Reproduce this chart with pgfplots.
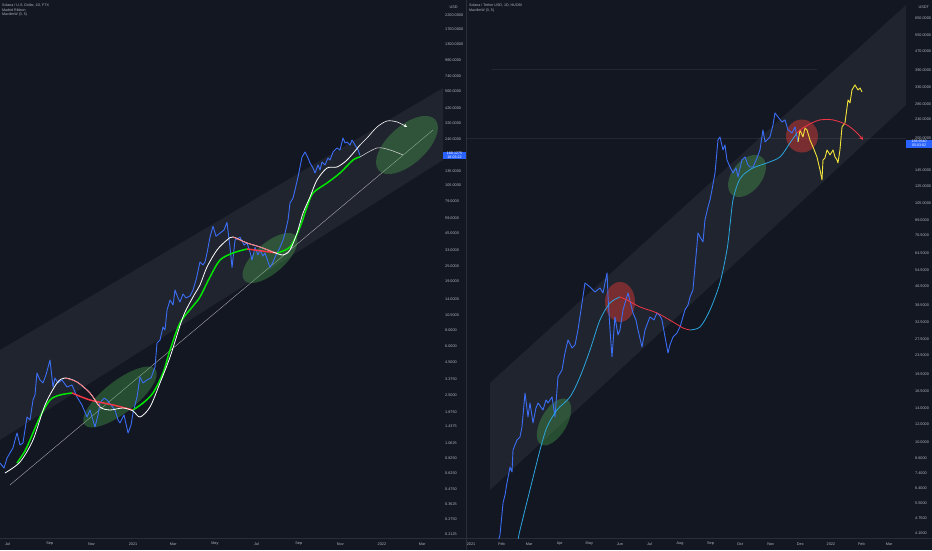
\documentclass[border=0pt]{standalone}
\usepackage{pgfplots}
\pgfplotsset{compat=1.18}
\usepackage{fontspec}
\setmainfont{Liberation Sans}
\usetikzlibrary{shapes.geometric,arrows.meta}
\definecolor{bg}{HTML}{131722}
\definecolor{sepc}{HTML}{2A2E39}
\definecolor{tvblue}{HTML}{3B6EF5}
\definecolor{tvgreen}{HTML}{00E600}
\definecolor{tvred}{HTML}{F23645}
\definecolor{tvcyan}{HTML}{2BA6DE}
\definecolor{tvyellow}{HTML}{F2E33A}
\definecolor{tvtext}{HTML}{B2B5BE}
\definecolor{lbox}{HTML}{2962FF}
\definecolor{elgreen}{HTML}{4CAF50}
\definecolor{elred}{HTML}{E53935}
\newcommand{\lbl}{\fontsize{3.8}{4.2}\selectfont}
\begin{document}
\begin{tikzpicture}
\useasboundingbox (0pt,0pt) rectangle (932pt,550pt);
\fill[bg] (0pt,0pt) rectangle (932pt,550pt);
\draw[sepc, line width=0.6pt] (466pt,0pt) -- (466pt,550pt);
\draw[sepc, line width=0.6pt] (0pt,12pt) -- (932pt,12pt);

% ---------------- LEFT PANEL ----------------
\begin{axis}[at={(0pt,12pt)}, anchor=south west, scale only axis, width=443pt, height=538pt,
  ymode=log,
  axis line style={draw=none}, major tick length=0pt, minor tick length=0pt,
  yticklabel pos=right,
  yticklabel style={anchor=west, inner sep=0pt, font=\lbl, text=tvtext, xshift=2pt},
  xticklabel style={anchor=center, inner sep=0pt, yshift=-6pt, font=\lbl, text=tvtext},
  clip=true,
  xmin=-195, xmax=454.5, ymin=0.1979, ymax=2866,
  xtick={-184,-122,-61,0,59,120,181,243,304,365,424},
  xticklabels={Jul,Sep,Nov,2021,Mar,May,Jul,Sep,Nov,2022,Mar},
  ytick={0.2125,0.275,0.3625,0.475,0.625,0.825,1.0625,1.4375,1.875,2.5,3.375,4.5,6,8,10.5,14,19,25,33,45,59,79,105,135,240,320,420,560,740,980,1300,1700,2200},
  yticklabels={0.2125,0.2750,0.3625,0.4750,0.6250,0.8250,1.0625,1.4375,1.8750,2.5000,3.3750,4.5000,6.0000,8.0000,10.5000,14.0000,19.0000,25.0000,33.0000,45.0000,59.0000,79.0000,105.0000,135.0000,240.0000,320.0000,420.0000,560.0000,740.0000,980.0000,1300.0000,1700.0000,2200.0000}]
\fill[white, opacity=0.06] (rel axis cs:0,0.3494) -- (rel axis cs:1,0.8364) -- (rel axis cs:1,0.7026) -- (rel axis cs:0,0.1822) -- cycle;
\addplot[white!60!gray, line width=0.4pt, opacity=0.8] coordinates {(-180.4,0.5086) (439.9,283.1)};
\node[ellipse, fill=elgreen, opacity=0.35, minimum width=90pt, minimum height=32pt, inner sep=0pt, rotate=38] at (rel axis cs:0.2709,0.2621) {};
\node[ellipse, fill=elgreen, opacity=0.35, minimum width=68pt, minimum height=30pt, inner sep=0pt, rotate=41] at (rel axis cs:0.6095,0.5204) {};
\node[ellipse, fill=elgreen, opacity=0.35, minimum width=76pt, minimum height=38pt, inner sep=0pt, rotate=42] at (rel axis cs:0.9187,0.7305) {};
\addplot[tvblue, line width=0.9pt, line join=round] coordinates {
(-195.0,0.752)(-189.1,0.688)(-184.7,0.823)(-180.4,0.899)(-176.0,0.983)(-173.0,1.133)(-170.0,1.284)(-165.7,1.037)(-161.3,1.075)(-158.4,1.355)(-155.4,1.708)(-151.0,1.619)(-146.6,2.311)(-143.7,2.526)(-140.8,3.74)(-136.4,3.30)(-132.0,3.13)(-127.6,3.61)(-121.7,4.71)(-117.3,2.91)(-114.4,3.42)(-110.0,3.13)(-104.1,3.30)(-96.8,2.91)(-89.4,3.02)(-82.1,2.44)(-74.8,2.11)(-67.4,1.708)(-63.0,1.934)(-55.7,1.429)(-51.3,1.769)(-48.4,2.19)(-42.5,2.39)(-38.1,2.311)(-32.3,2.11)(-26.4,1.934)(-22.0,1.619)(-19.1,1.534)(-13.2,1.769)(-7.3,1.284)(-2.9,1.48)(0,1.834)(5.9,2.44)(10.3,3.48)(14.7,3.13)(20.5,3.30)(26.4,3.42)(32.3,4.16)(35.2,6.38)(39.6,6.73)(44.0,8.48)(46.9,8.04)(49.9,11.47)(54.3,13.71)(58.7,12.55)(61.6,16.39)(66.0,14.21)(68.9,13.23)(73.3,15.27)(77.7,14.21)(83.6,14.73)(88.0,16.39)(92.4,19.58)(98.2,26.99)(102.6,25.58)(105.6,26.99)(108.5,31.57)(112.9,42.0)(117.3,50.9)(121.7,42.7)(127.6,45.1)(133.4,47.7)(137.8,54.6)(142.2,35.0)(145.2,24.5)(149.6,39.9)(156.9,42.0)(162.8,36.5)(167.2,37.8)(171.6,32.2)(174.5,27.95)(178.9,35.0)(183.3,30.6)(186.2,33.4)(190.6,30.0)(193.5,31.7)(198.0,27.0)(200.9,24.5)(205.3,27.0)(209.7,30.6)(215.5,35.0)(219.9,39.9)(222.9,45.1)(227.3,57.0)(230.2,77.1)(234.6,84.3)(237.5,97.25)(241.9,122.6)(247.8,175.0)(252.2,191.3)(256.6,172.0)(259.5,157.3)(263.9,143.9)(266.9,131.6)(271.3,151.8)(274.2,138.9)(277.1,160.1)(281.5,151.8)(285.9,172.0)(288.9,165.9)(293.3,191.3)(299.1,205.5)(303.5,198.3)(307.9,245.5)(310.9,224.6)(313.8,228.6)(318.2,216.7)(321.1,236.9)(325.5,216.7)(329.9,198.3)(332.8,180.13)};
\addplot[tvgreen, line width=1.5pt, smooth, tension=0.5] coordinates {(-170.1,0.752)(-158.4,0.932)(-151.0,1.133)(-136.4,1.708)(-121.7,2.311)(-107.0,2.526)(-89.4,2.618)};
\addplot[tvred, line width=1.5pt, smooth, tension=0.5] coordinates {(-89.4,2.618)(-63.1,2.311)(-29.3,2.114)(0,1.934)};
\addplot[tvgreen, line width=1.5pt, smooth, tension=0.5] coordinates {(0,1.934)(14.7,2.191)(29.3,2.618)(44.0,3.737)(54.3,5.628)(68.9,9.106)(88.0,12.32)(98.2,14.47)(112.9,20.65)(127.6,27.95)(146.6,31.67)(167.2,34.01)};
\addplot[tvred, line width=1.5pt, smooth, tension=0.5] coordinates {(167.2,34.01)(189.2,32.82)(211.1,31.67)};
\addplot[tvgreen, line width=1.5pt, smooth, tension=0.5] coordinates {(211.1,31.67)(230.2,35.25)(244.9,50.30)(255.1,71.84)(263.9,92.2)(284.5,110.2)(303.5,131.6)(322.6,165.9)(332.8,175.0)};
\addplot[white!75!gray, line width=0.5pt, smooth, tension=0.5] coordinates {(332.8,175.0)(357.8,205.5)(376.8,198.3)(395.9,181.4)};
\addplot[white, line width=0.8pt, smooth, tension=0.5] coordinates {(-187.7,0.630)(-165.7,0.766)(-146.6,1.133)(-129.0,2.114)(-111.4,3.128)(-99.7,3.420)(-82.1,3.184)(-63.1,2.618)(-48.4,2.040)(-33.7,1.934)(-14.7,2.004)(0,1.900)(10.3,1.708)(24.9,2.040)(39.6,3.128)(54.3,4.969)(73.3,10.13)(88.0,14.47)(98.2,17.92)(108.5,24.69)(123.2,33.41)(137.8,39.92)(146.6,42.11)(167.2,37.84)(186.2,35.25)(205.3,32.24)(220.0,30.56)(230.2,33.41)(240.5,45.22)(249.3,64.57)(259.5,85.86)(269.8,116.2)(284.5,143.9)(299.1,146.5)(313.8,165.9)(332.8,216.7)};
\addplot[tvred!70!white, line width=0.8pt, smooth, tension=0.5] coordinates {(-99.7,3.420)(-82.1,3.184)(-63.1,2.618)(-48.4,2.040)};
\addplot[tvred!70!white, line width=0.8pt, smooth, tension=0.5] coordinates {(146.6,42.11)(167.2,37.84)(186.2,35.25)(205.3,32.24)};
\addplot[white, line width=0.6pt, smooth, tension=0.5, -{Stealth[length=3pt,width=3pt]}] coordinates {(332.8,216.7)(343.1,245.5)(357.8,298.6)(372.4,332.3)(387.1,326.5)(401.8,298.6)};
\coordinate (pl) at (axis cs:332.8,180.13);
\end{axis}

% ---------------- RIGHT PANEL ----------------
\begin{axis}[at={(466pt,12pt)}, anchor=south west, scale only axis, width=440pt, height=538pt,
  ymode=log,
  axis line style={draw=none}, major tick length=0pt, minor tick length=0pt,
  yticklabel pos=right,
  yticklabel style={anchor=west, inner sep=0pt, font=\lbl, text=tvtext, xshift=9pt},
  xticklabel style={anchor=center, inner sep=0pt, yshift=-6pt, font=\lbl, text=tvtext},
  clip=true,
  xmin=-5.07, xmax=441.2, ymin=3.903, ymax=777.3,
  xtick={0,31,59,90,120,151,181,212,243,273,304,334,365,396,424},
  xticklabels={2021,Feb,Mar,Apr,May,Jun,Jul,Aug,Sep,Oct,Nov,Dec,2022,Feb,Mar},
  ytick={4.1,4.75,5.5,6.4,7.4,8.6,10,12,14,16.5,19.5,23.5,27.5,32.5,38.5,46.5,54.5,64.5,76.5,89,105,125,145,200,240,280,330,390,470,550,650},
  yticklabels={4.1000,4.7500,5.5000,6.4000,7.4000,8.6000,10.0000,12.0000,14.0000,16.5000,19.5000,23.5000,27.5000,32.5000,38.5000,46.5000,54.5000,64.5000,76.5000,89.0000,105.0000,125.0000,145.0000,200.0000,240.0000,280.0000,330.0000,390.0000,470.0000,550.0000,650.0000}]
\fill[white, opacity=0.06] (rel axis cs:0.0545,0.2881) -- (rel axis cs:1,0.9907) -- (rel axis cs:1,0.8048) -- (rel axis cs:0.0545,0.0892) -- cycle;
\addplot[white, line width=0.6pt, opacity=0.07] coordinates {(21.3,394.5)(350.9,394.5)};
\addplot[white, line width=0.6pt, opacity=0.07] coordinates {(-5,200)(441.2,200)};
\node[ellipse, fill=elgreen, opacity=0.35, minimum width=52pt, minimum height=26pt, inner sep=0pt, rotate=60] at (rel axis cs:0.2,0.2156) {};
\node[ellipse, fill=elgreen, opacity=0.35, minimum width=48pt, minimum height=30pt, inner sep=0pt, rotate=52] at (rel axis cs:0.6386,0.6729) {};
\node[ellipse, fill=elred, opacity=0.45, minimum width=30pt, minimum height=40pt, inner sep=0pt] at (rel axis cs:0.35,0.4387) {};
\node[ellipse, fill=elred, opacity=0.45, minimum width=32pt, minimum height=33pt, inner sep=0pt] at (rel axis cs:0.7636,0.7472) {};
\addplot[tvblue, line width=0.9pt, line join=round] coordinates {
(26.4,3.64)(29.4,4.02)(32.5,5.51)(34.5,5.96)(36.5,6.71)(39.6,7.85)(41.6,7.47)(42.6,9.28)(46.7,10.24)(49.7,10.55)(51.7,11.64)(54.8,16.26)(57.8,12.84)(59.8,14.74)(62.9,12.11)(65.9,14.03)(68.0,14.74)(73.0,13.75)(76.1,15.18)(78.1,14.74)(82.2,15.64)(85.2,12.84)(88.2,19.03)(92.3,20.39)(95.3,24.10)(98.4,27.40)(102.4,25.33)(105.5,26.09)(108.5,30.23)(112.6,39.43)(115.6,48.02)(120.7,46.16)(125.8,43.95)(130.8,45.70)(133.9,43.5)(135.9,48.02)(138.0,52.97)(139.0,41.83)(141.0,30.23)(143.0,23.17)(146.0,34.36)(149.1,28.79)(151.1,30.23)(154.2,36.81)(156.2,39.43)(159.2,43.52)(162.3,38.67)(164.3,35.74)(167.3,33.36)(169.4,30.23)(173.4,25.58)(176.5,30.23)(179.5,32.70)(181.5,34.36)(185.6,33.36)(188.6,35.74)(191.7,34.70)(193.7,33.36)(196.8,28.22)(199.8,24.10)(201.8,26.09)(204.9,28.22)(208.9,29.36)(212.0,31.14)(217.0,36.81)(220.1,38.67)(222.1,41.83)(225.1,44.81)(227.2,56.20)(229.2,69.80)(230.2,78.52)(232.3,75.49)(235.3,71.88)(237.3,89.24)(240.4,101.4)(242.4,108.6)(244.4,119.9)(247.5,141.7)(250.5,196.1)(252.5,202.0)(255.6,177.7)(257.6,186.7)(259.6,161.1)(262.7,150.3)(265.7,141.7)(268.8,148.9)(270.8,136.2)(274.8,161.1)(277.9,165.9)(280.9,153.4)(283.0,150.3)(286.0,150.3)(290.1,164.3)(293.1,177.7)(296.1,216.4)(298.2,192.3)(300.2,196.1)(303.2,202.0)(306.3,227.3)(308.3,255.8)(311.4,245.9)(315.4,234.1)(318.5,238.8)(321.5,216.4)(325.6,210.1)(328.6,222.9)(331.7,192.3)};
\addplot[tvyellow, line width=0.9pt, line join=round] coordinates {
(331.7,192.3)(333.7,216.4)(336.7,202.0)(338.8,220.7)(340.8,216.4)(343.8,196.1)(346.9,183.0)(350.9,165.9)(354.0,146.0)(356.0,132.3)(357.0,161.1)(359.0,164.3)(361.1,177.7)(364.1,169.2)(367.2,177.7)(369.2,165.9)(371.2,161.1)(372.2,156.4)(374.2,177.7)(376.3,222.9)(379.3,231.8)(382.4,290.6)(384.4,282.2)(386.4,320.8)(389.5,337.0)(392.5,320.8)(394.6,327.2)(396.6,314.6)};
\addplot[tvcyan, line width=0.8pt, smooth, tension=0.5] coordinates {(47.7,3.83)(49.7,4.22)(59.8,6.26)(70.0,9.28)(77.1,11.64)(87.2,13.75)(100.4,15.64)(110.5,19.03)(120.7,24.82)(130.8,33.36)(141.0,39.43)(151.1,41.83)};
\addplot[tvred, line width=0.8pt, smooth, tension=0.5] coordinates {(151.1,41.83)(158.2,40.61)(171.4,37.91)(188.6,35.74)(204.9,32.70)(215.0,30.83)(222.1,30.23)};
\addplot[tvcyan, line width=0.8pt, smooth, tension=0.5] coordinates {(222.1,30.23)(232.3,31.14)(242.4,36.81)(252.5,48.02)(259.6,66.43)(262.7,84.96)(265.7,108.6)(270.8,128.5)(275.9,138.9)(286.0,148.9)(300.2,156.4)(313.4,165.9)(323.5,190.4)(330.6,210.1)};
\addplot[tvred, line width=0.8pt, smooth, tension=0.5, -{Stealth[length=4pt,width=4pt,open]}] coordinates {(330.6,210.1)(336.7,220.8)(345.8,231.8)(354.0,238.8)(367.2,238.8)(381.3,227.3)(391.5,210.1)(397.6,196.1)};
\coordinate (pr) at (axis cs:331.7,188.954);
\end{axis}

\node[fill=lbox, text=white, inner sep=0.6pt, minimum width=23pt, align=center, font=\fontsize{3.6}{4}\selectfont] at (454.5pt,0pt |- pl) {180.1275\\18:03:22};
\node[fill=lbox, text=white, inner sep=0.6pt, minimum width=26pt, align=center, font=\fontsize{3.6}{4}\selectfont] at (919pt,0pt |- pr) {188.9540\\05:03:02};
\node[anchor=west, text=tvtext, font=\lbl] at (446pt,543pt) {USD};
\node[anchor=west, text=tvtext, font=\lbl] at (915pt,543pt) {USDT};
\node[anchor=north west, text=tvtext, font=\fontsize{3.6}{4.4}\selectfont, align=left, inner sep=0pt] at (2pt,546pt) {Solana / U.S. Dollar, 1D, FTX\\Madrid Ribbon\\MavilimW (3, 5)};
\node[anchor=north west, text=tvtext, font=\fontsize{3.6}{4.4}\selectfont, align=left, inner sep=0pt] at (469pt,546pt) {Solana / Tether USD, 1D, HUOBI\\MavilimW (3, 5)};
\end{tikzpicture}
\end{document}
